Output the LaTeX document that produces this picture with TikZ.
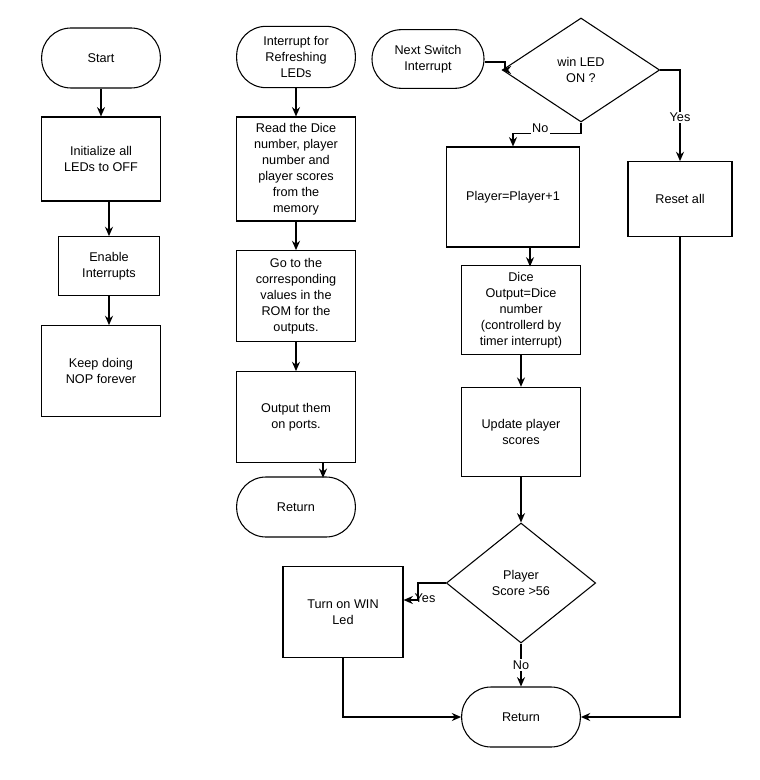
\documentclass[tikz,border=0pt]{standalone}
\usepackage{fontspec}
\setmainfont{Liberation Sans}
\usetikzlibrary{arrows.meta,shapes.geometric}
\begin{document}
\begin{tikzpicture}[x=0.75pt,y=-0.75pt,line width=1.1pt,>={Stealth[length=7pt,width=6pt]},
  font=\fontsize{9.5}{12}\selectfont,
  term/.style = {draw, line width=0.8pt, rectangle, rounded corners=22pt, align=center, inner sep=2pt},
  proc/.style = {draw, line width=0.8pt, rectangle, align=center, inner sep=2pt},
  dec/.style = {draw, line width=0.8pt, diamond, aspect=1.5, align=center, inner sep=0pt},
  lbl/.style = {fill=white, inner sep=1pt}]
  \useasboundingbox (0,0) rectangle (759,780);

  % first column
  \node[term, minimum width=89pt, minimum height=45pt] (start) at (101,58) {Start};
  \node[proc, minimum width=89pt, minimum height=63pt] (init) at (101,159) {Initialize all\\LEDs to OFF};
  \node[proc, minimum width=76pt, minimum height=44pt] (enable) at (109,266) {Enable\\Interrupts};
  \node[proc, minimum width=89pt, minimum height=68pt] (keep) at (101,371) {Keep doing\\NOP forever};

  % second column
  \node[term, minimum width=89pt, minimum height=46pt] (refresh) at (296,57) {Interrupt for\\Refreshing\\LEDs};
  \node[proc, minimum width=89pt, minimum height=78pt] (read) at (296,169) {Read the Dice\\number, player\\number and\\player scores\\from the\\memory};
  \node[proc, minimum width=89pt, minimum height=68pt] (goto) at (296,296) {Go to the\\corresponding\\values in the\\ROM for the\\outputs.};
  \node[proc, minimum width=89pt, minimum height=68pt] (output) at (296,417) {Output them\\on ports.};
  \node[term, minimum width=89pt, minimum height=45pt] (ret1) at (296,507) {Return};

  % third column
  \node[term, minimum width=84pt, minimum height=44pt] (next) at (428,59) {Next Switch\\Interrupt};
  \node[dec, minimum width=118pt, minimum height=78pt] (win) at (581,70) {win LED\\ON ?};
  \node[proc, minimum width=100pt, minimum height=75pt] (player) at (513,197) {Player=Player+1};
  \node[proc, minimum width=89pt, minimum height=67pt] (dice) at (521,310) {Dice\\Output=Dice\\number\\(controllerd by\\timer interrupt)};
  \node[proc, minimum width=89pt, minimum height=67pt] (update) at (521,432) {Update player\\scores};
  \node[dec, minimum width=112pt, minimum height=90pt, aspect=1.25] (score) at (521,583) {Player\\Score >56};
  \node[proc, minimum width=90pt, minimum height=68pt] (turnon) at (343,612) {Turn on WIN\\Led};
  \node[term, minimum width=89pt, minimum height=45pt] (ret2) at (521,717) {Return};
  \node[proc, minimum width=78pt, minimum height=56pt] (reset) at (680,199) {Reset all};

  \coordinate (jog) at (505,62);
  \coordinate (bend) at (418,583);

  \draw[->] (start) -- (init);
  \draw[->] (init.south -| enable) -- (enable);
  \draw[->] (enable.south) -- (enable.south |- keep.north);
  \draw[->] (refresh) -- (read);
  \draw[->] (read) -- (goto);
  \draw[->] (goto) -- (output);
  \draw[->] (output.south) ++(27,0) -- ++(0,15);
  \draw[->] (next.east |- jog) -- (jog) |- (win.west);
  \draw[->] (win.south) -- ++(0,11) -| (player.north) node[lbl, pos=0.3, above=-1pt] {No};
  \draw[->] (win.east) -| (reset.north) node[lbl, pos=0.76] {Yes};
  \draw[->] (player.south -| dice) ++(9,0) -- ++(0,19);
  \draw[->] (dice) -- (update);
  \draw[->] (update) -- (score);
  \draw[->] (score.west) -- (bend) |- (turnon.east |- 0,600);
  \node[lbl, fill=none] (yes2) at (425,598) {Yes};
  \draw[->] (score) -- (ret2) node[lbl, midway] {No};
  \draw[->] (turnon.south) |- (ret2.west);
  \draw[->] (reset.south) |- (ret2.east);
\end{tikzpicture}
\end{document}
